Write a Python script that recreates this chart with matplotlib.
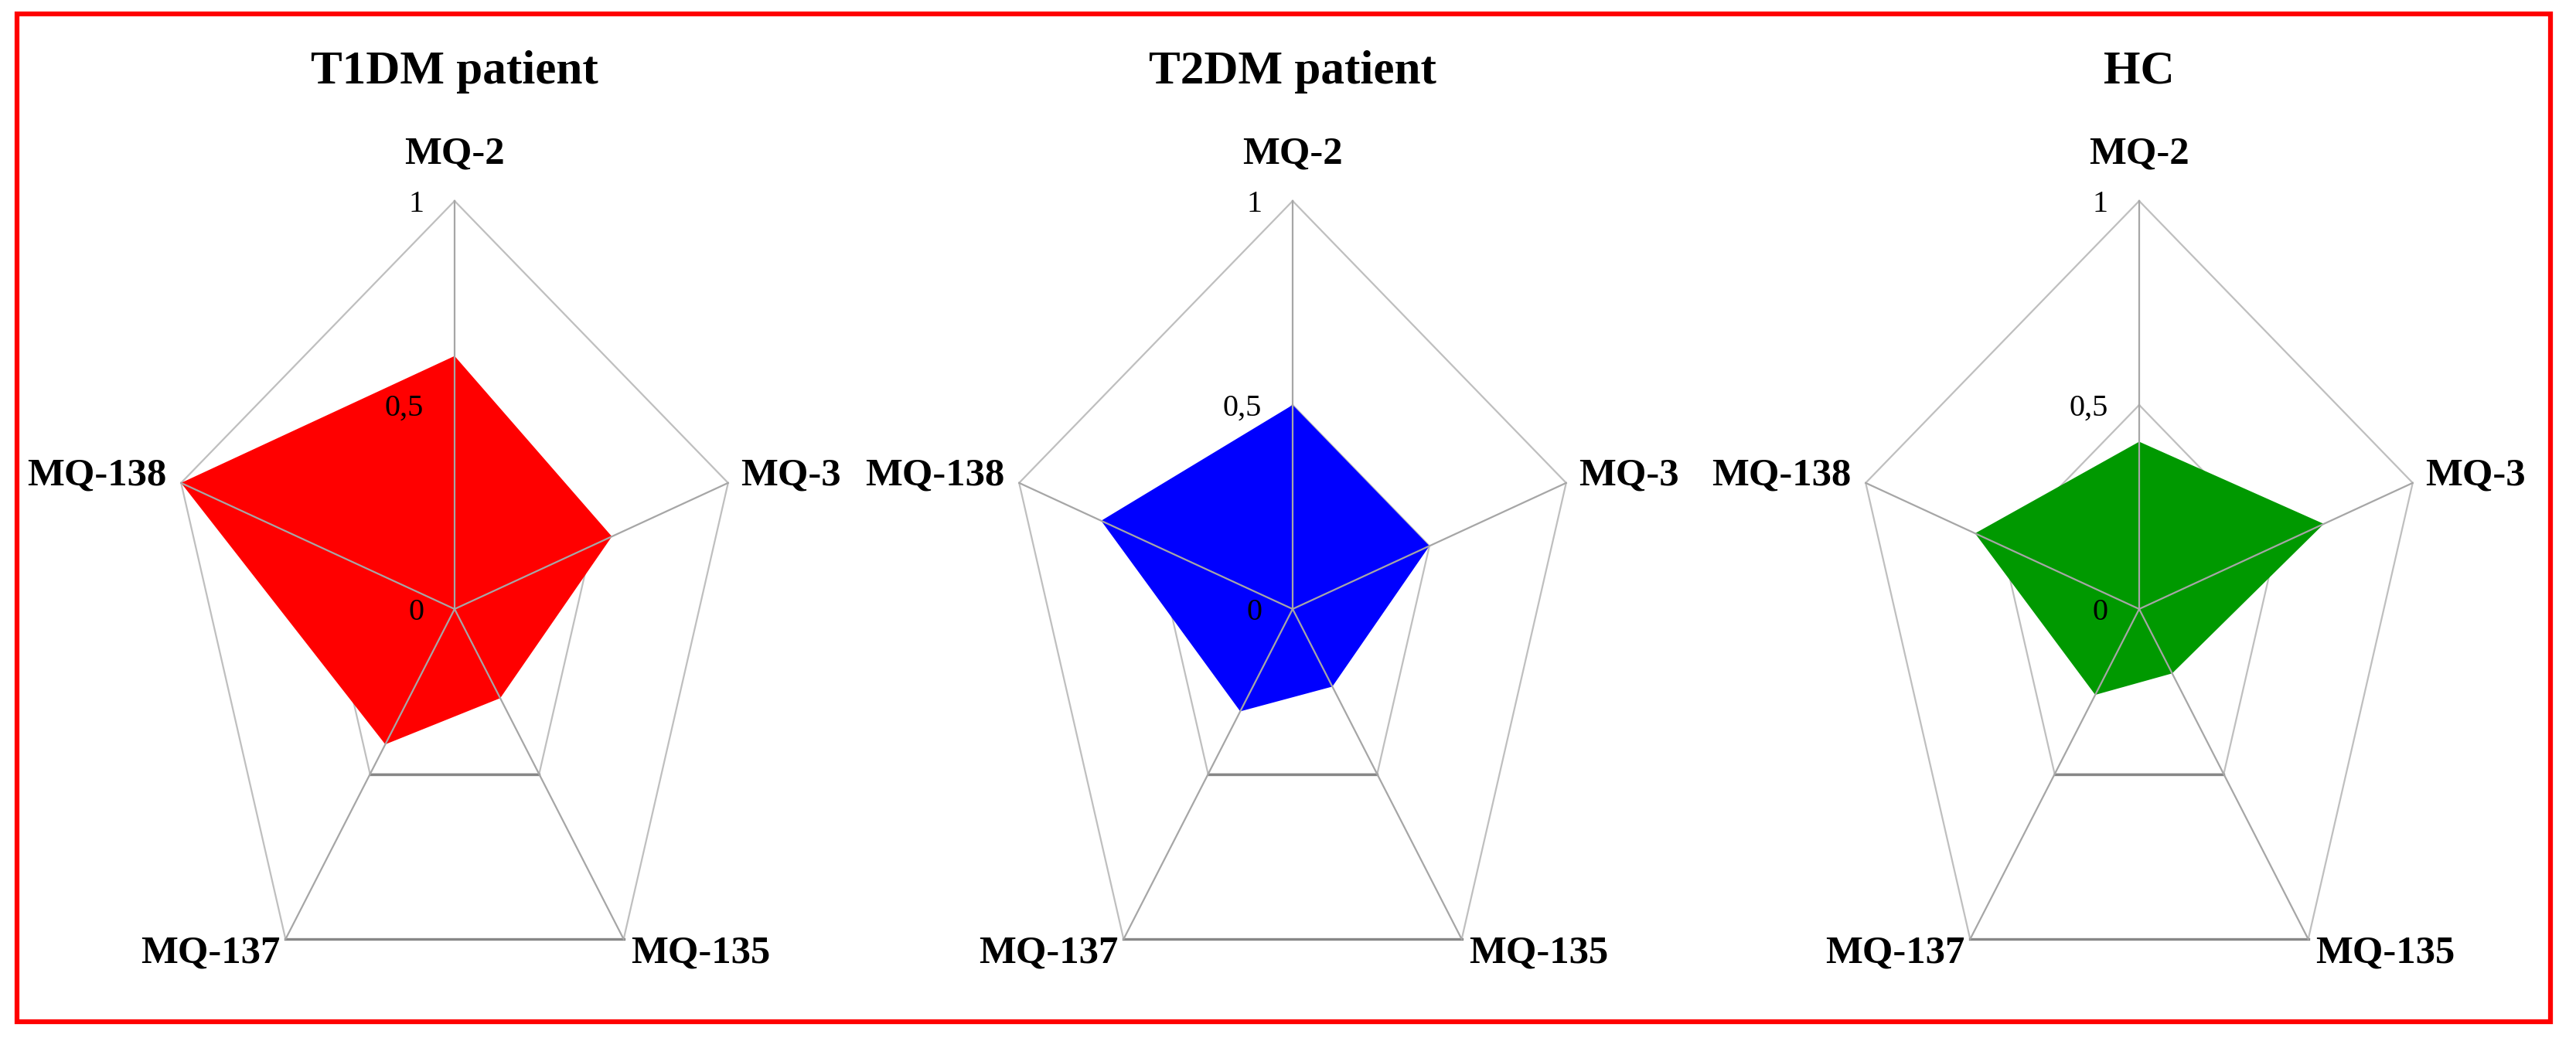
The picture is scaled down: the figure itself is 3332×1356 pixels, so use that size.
import numpy as np
import matplotlib
matplotlib.use("Agg")
import matplotlib.pyplot as plt
from matplotlib.patches import Rectangle

# ------------------------------------------------------------
# data (scale 0..1)
# ------------------------------------------------------------
sensors = ["MQ-2", "MQ-3", "MQ-135", "MQ-137", "MQ-138"]
t1dm = [0.62, 0.575, 0.27, 0.41, 1.0]
t2dm = [0.50, 0.50, 0.235, 0.31, 0.70]
hc = [0.41, 0.675, 0.195, 0.26, 0.60]

titles = ["T1DM patient", "T2DM patient", "HC"]
colors = ["#FF0000", "#0000FF", "#009900"]
ring_levels = [0.5, 1.0]
ring_labels = ["0,5", "1"]

plt.rcParams["font.family"] = ["Liberation Serif", "DejaVu Serif"]

W, H, DPI = 3332, 1356, 100
fig = plt.figure(figsize=(W / DPI, H / DPI), dpi=DPI)

# panel geometry in pixels (the reference is stretched vertically)
centers_x = [588, 1672, 2767]
center_y = 788
rx, ry = 372, 528
top_px, bottom_px = 30, 1300

# MQ-2 at the top, the others clockwise
angles = np.deg2rad(90 - 72 * np.arange(len(sensors)))
cosa, sina = np.cos(angles), np.sin(angles)

label_offsets = [(0, 60, "center"), (16, 9, "left"), (9, -18, "left"),
                 (-7, -18, "right"), (-19, 9, "right")]

for cx, title, color, vals in zip(centers_x, titles, colors, [t1dm, t2dm, hc]):
    left = cx - 1.4 * rx
    ax = fig.add_axes([left / W, (H - bottom_px) / H, 2.8 * rx / W, (bottom_px - top_px) / H])
    ax.set_xlim(-1.4, 1.4)
    ax.set_ylim(-(bottom_px - center_y) / ry, (center_y - top_px) / ry)
    ax.axis("off")

    # rings
    for lev in ring_levels:
        xs = np.append(lev * cosa, lev * cosa[0])
        ys = np.append(lev * sina, lev * sina[0])
        ax.plot(xs, ys, color="#BFBFBF", lw=1.6, zorder=1)
        # bottom edge is drawn darker in the original
        ax.plot(lev * cosa[2:4], lev * sina[2:4], color="#878787", lw=2.4, zorder=1)

    # filled series
    v = np.array(vals)
    ax.fill(v * cosa, v * sina, color=color, lw=0, zorder=2)

    # spokes on top of the fill
    for c, s in zip(cosa, sina):
        ax.plot([0, c], [0, s], color="#A6A6A6", lw=1.6, zorder=3)

    # axis tick labels
    for lev, lab in zip([0] + ring_levels, ["0"] + ring_labels):
        ax.annotate(lab, xy=(0, lev), xytext=(-40, -4), textcoords="offset pixels",
                    ha="right", va="center", fontsize=29, zorder=4)

    # sensor labels
    for name, c, s, (dx, dy, ha) in zip(sensors, cosa, sina, label_offsets):
        ax.annotate(name, xy=(c, s), xytext=(dx, dy), textcoords="offset pixels",
                    ha=ha, va="center", fontsize=36.5, fontweight="bold", zorder=4)

    ax.text(0, (center_y - 93) / ry, title, ha="center", va="center",
            fontsize=44, fontweight="bold")

# red frame around the whole figure
fig.add_artist(Rectangle((22 / W, (H - 1322) / H), (3299 - 22) / W, (1322 - 18) / H,
                         transform=fig.transFigure, fill=False,
                         edgecolor="#FF0000", lw=4.5))

fig.savefig("out.png", dpi=DPI, facecolor="white")
